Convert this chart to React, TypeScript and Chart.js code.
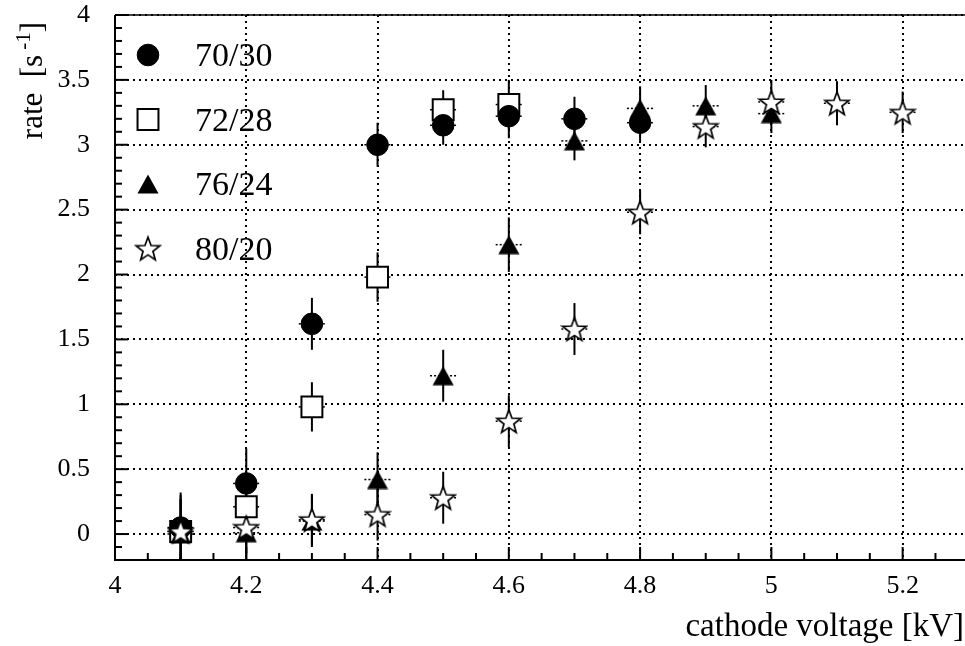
import React, { useEffect, useRef } from 'react';
import { Chart, registerables } from 'chart.js';
import { drawPoint } from 'chart.js/helpers';

Chart.register(...registerables);

// ---------- data ----------
const seriesLabels = ['70/30', '72/28', '76/24', '80/20'];

const voltage7030 = [4.1, 4.2, 4.3, 4.4, 4.5, 4.6, 4.7, 4.8];
const rate7030 = [0.05, 0.39, 1.62, 3.0, 3.15, 3.22, 3.2, 3.17];
const error7030 = [0.27, 0.27, 0.2, 0.17, 0.15, 0.17, 0.17, 0.15];

const voltage7228 = [4.1, 4.2, 4.3, 4.4, 4.5, 4.6];
const rate7228 = [0.02, 0.21, 0.98, 1.98, 3.27, 3.31];
const error7228 = [0.25, 0.25, 0.19, 0.19, 0.15, 0.19];

const voltage7624 = [4.1, 4.2, 4.3, 4.4, 4.5, 4.6, 4.7, 4.8, 4.9, 5.0];
const rate7624 = [0.0, 0.01, 0.1, 0.42, 1.22, 2.23, 3.03, 3.28, 3.3, 3.24];
const error7624 = [0.3, 0.25, 0.2, 0.21, 0.2, 0.21, 0.15, 0.17, 0.16, 0.15];

const voltage8020 = [4.1, 4.2, 4.3, 4.4, 4.5, 4.6, 4.7, 4.8, 4.9, 5.0, 5.1, 5.2];
const rate8020 = [0.02, 0.05, 0.11, 0.15, 0.28, 0.87, 1.58, 2.48, 3.14, 3.33, 3.32, 3.25];
const error8020 = [0.25, 0.2, 0.2, 0.2, 0.2, 0.2, 0.2, 0.17, 0.16, 0.17, 0.17, 0.16];

const voltageError = 0.02;

const xTickValues = [4, 4.2, 4.4, 4.6, 4.8, 5, 5.2];
const yTickValues = [0, 0.5, 1, 1.5, 2, 2.5, 3, 3.5, 4];
const xMinorStep = 0.05;
const yMinorStep = 0.1;

const xTitle = 'cathode voltage [kV]';

// ---------- styling ----------
const FONT = "'Liberation Serif', 'Times New Roman', serif";

function makeStar(): HTMLCanvasElement {
  const size = 28;
  const c = document.createElement('canvas');
  c.width = size;
  c.height = size;
  const g = c.getContext('2d')!;
  const cx = size / 2;
  const cy = size / 2 + 1.2;
  const R = 12.4;
  const r = R * 0.42;
  g.beginPath();
  for (let k = 0; k < 10; k++) {
    const ang = -Math.PI / 2 + (k * Math.PI) / 5;
    const rad = k % 2 === 0 ? R : r;
    const x = cx + rad * Math.cos(ang);
    const y = cy + rad * Math.sin(ang);
    if (k === 0) g.moveTo(x, y);
    else g.lineTo(x, y);
  }
  g.closePath();
  g.fillStyle = '#fff';
  g.fill();
  g.lineWidth = 1.7;
  g.strokeStyle = '#000';
  g.stroke();
  return c;
}

function makeTriangle(): HTMLCanvasElement {
  const w = 22;
  const h = 20;
  const c = document.createElement('canvas');
  c.width = w;
  c.height = h;
  const g = c.getContext('2d')!;
  g.beginPath();
  g.moveTo(0.5, h - 0.5);
  g.lineTo(w - 0.5, h - 0.5);
  g.lineTo(w / 2, 0.5);
  g.closePath();
  g.fillStyle = '#000';
  g.fill();
  return c;
}

function pts(xs: number[], ys: number[]) {
  return xs.map((x, i) => ({ x, y: ys[i] }));
}

const frameTicksPlugin = {
  id: 'frameTicks',
  beforeDatasetsDraw(chart: any) {
    const { ctx, chartArea: a, scales } = chart;
    const xs = scales.x;
    const ys = scales.y;
    ctx.save();
    ctx.setLineDash([]);
    ctx.strokeStyle = '#000';
    ctx.lineWidth = 2;
    ctx.beginPath();
    ctx.moveTo(a.left, a.top);
    ctx.lineTo(a.left, a.bottom);
    ctx.lineTo(a.right, a.bottom);
    ctx.stroke();
    ctx.lineWidth = 1.5;
    ctx.beginPath();
    ctx.moveTo(a.left, a.top);
    ctx.lineTo(a.right, a.top);
    ctx.stroke();
    ctx.lineWidth = 2;
    const xmin = xs.min;
    const xmax = xs.max;
    for (let k = 0; ; k++) {
      const v = xmin + k * xMinorStep;
      if (v > xmax + 1e-9) break;
      const major = xTickValues.some((t) => Math.abs(t - v) < 1e-6);
      const px = xs.getPixelForValue(v);
      const len = major ? 13 : 7;
      ctx.beginPath();
      ctx.moveTo(px, a.bottom);
      ctx.lineTo(px, a.bottom - len);
      ctx.stroke();
    }
    const ymin = ys.min;
    const ymax = ys.max;
    for (let k = 0; ; k++) {
      const v = ymin + k * yMinorStep;
      if (v > ymax + 1e-9) break;
      const major = yTickValues.some((t) => Math.abs(t - v) < 1e-6);
      const py = ys.getPixelForValue(v);
      const len = major ? 13 : 7;
      ctx.beginPath();
      ctx.moveTo(a.left, py);
      ctx.lineTo(a.left + len, py);
      ctx.stroke();
    }
    ctx.restore();
  },
};

const errorBarPlugin = {
  id: 'errorBars',
  beforeDatasetsDraw(chart: any) {
    const { ctx, chartArea: a, scales } = chart;
    const xs = scales.x;
    const ys = scales.y;
    ctx.save();
    ctx.beginPath();
    ctx.rect(a.left, a.top, a.right - a.left, a.bottom - a.top);
    ctx.clip();
    ctx.strokeStyle = '#000';
    chart.data.datasets.forEach((ds: any) => {
      const errs: number[] = ds.yErrors;
      ds.data.forEach((p: any, i: number) => {
        const px = xs.getPixelForValue(p.x);
        const py = ys.getPixelForValue(p.y);
        const top = ys.getPixelForValue(p.y + errs[i]);
        const bot = ys.getPixelForValue(p.y - errs[i]);
        ctx.setLineDash([]);
        ctx.lineWidth = 2;
        ctx.beginPath();
        ctx.moveTo(px, top);
        ctx.lineTo(px, bot);
        ctx.stroke();
        const xl = xs.getPixelForValue(p.x - voltageError);
        const xr = xs.getPixelForValue(p.x + voltageError);
        ctx.lineWidth = 1.5;
        ctx.setLineDash([2, 2]);
        ctx.beginPath();
        ctx.moveTo(xl, py);
        ctx.lineTo(xr, py);
        ctx.stroke();
      });
    });
    ctx.restore();
  },
};

const legendTitlesPlugin = {
  id: 'legendTitles',
  afterDraw(chart: any) {
    const { ctx } = chart;
    ctx.save();
    chart.data.datasets.forEach((ds: any, i: number) => {
      const cx = 148;
      const cy = 55 + 64.5 * i;
      ctx.setLineDash([]);
      ctx.fillStyle = ds.backgroundColor;
      ctx.strokeStyle = ds.borderColor;
      ctx.lineWidth = ds.borderWidth;
      drawPoint(
        ctx,
        { pointStyle: ds.pointStyle, radius: ds.pointRadius, rotation: 0, borderWidth: ds.borderWidth },
        cx,
        cy
      );
      ctx.fillStyle = '#000';
      ctx.font = `34px ${FONT}`;
      ctx.textAlign = 'left';
      ctx.textBaseline = 'alphabetic';
      ctx.fillText(ds.label, 195, cy + 11);
    });
    ctx.fillStyle = '#000';
    ctx.font = `33px ${FONT}`;
    ctx.textAlign = 'right';
    ctx.textBaseline = 'alphabetic';
    ctx.fillText(xTitle, 964, 636);
    ctx.translate(42, 22);
    ctx.rotate(-Math.PI / 2);
    ctx.textAlign = 'left';
    const main = `31px ${FONT}`;
    const sup = `21px ${FONT}`;
    ctx.font = main;
    const w1 = ctx.measureText('rate  [s').width;
    const w3 = ctx.measureText(']').width;
    ctx.font = sup;
    const w2 = ctx.measureText('-1').width;
    const gap = 5;
    const total = w1 + gap + w2 + w3;
    let x = -total;
    ctx.font = main;
    ctx.fillText('rate  [s', x, 0);
    x += w1 + gap;
    ctx.font = sup;
    ctx.fillText('-1', x, -12);
    x += w2;
    ctx.font = main;
    ctx.fillText(']', x, 0);
    ctx.restore();
  },
};

export default function App() {
  const ref = useRef<HTMLCanvasElement>(null);
  useEffect(() => {
    const star = makeStar();
    const tri = makeTriangle();
    const datasets: any[] = [
      {
        label: seriesLabels[0],
        data: pts(voltage7030, rate7030),
        yErrors: error7030,
        pointStyle: 'circle',
        pointRadius: 10.8,
        backgroundColor: '#000',
        borderColor: '#000',
        borderWidth: 1,
        order: 2,
      },
      {
        label: seriesLabels[1],
        data: pts(voltage7228, rate7228),
        yErrors: error7228,
        pointStyle: 'rect',
        pointRadius: 14.8,
        backgroundColor: '#fff',
        borderColor: '#000',
        borderWidth: 2,
        order: 3,
      },
      {
        label: seriesLabels[2],
        data: pts(voltage7624, rate7624),
        yErrors: error7624,
        pointStyle: tri,
        pointRadius: 11,
        backgroundColor: '#000',
        borderColor: '#000',
        borderWidth: 0,
        order: 1,
      },
      {
        label: seriesLabels[3],
        data: pts(voltage8020, rate8020),
        yErrors: error8020,
        pointStyle: star,
        pointRadius: 12,
        backgroundColor: '#fff',
        borderColor: '#000',
        borderWidth: 0,
        order: 0,
      },
    ];
    const fmt = (v: any) => String(Math.round(Number(v) * 100) / 100);
    const chart = new Chart(ref.current!, {
      type: 'scatter',
      data: { datasets },
      options: {
        animation: false,
        responsive: false,
        devicePixelRatio: 1,
        layout: { autoPadding: false, padding: { top: 15, right: 0, left: 0, bottom: 0 } },
        plugins: { legend: { display: false }, tooltip: { enabled: false } },
        scales: {
          x: {
            type: 'linear',
            min: 4,
            max: 5.295,
            afterBuildTicks: (s: any) => {
              s.ticks = xTickValues.map((value) => ({ value }));
            },
            afterFit: (s: any) => {
              s.height = 86;
              s.paddingLeft = 0;
              s.paddingRight = 0;
            },
            ticks: {
              callback: fmt,
              color: '#000',
              font: { family: FONT, size: 26 },
              padding: 11,
              maxRotation: 0,
              autoSkip: false,
            },
            grid: { color: '#000', lineWidth: 2, drawTicks: false },
            border: { display: false, dash: [2, 4] },
          },
          y: {
            type: 'linear',
            min: -0.2,
            max: 4,
            afterBuildTicks: (s: any) => {
              s.ticks = yTickValues.map((value) => ({ value }));
            },
            afterFit: (s: any) => {
              s.width = 115;
              s.paddingTop = 0;
              s.paddingBottom = 0;
            },
            ticks: {
              callback: fmt,
              color: '#000',
              font: { family: FONT, size: 26 },
              padding: 25,
              autoSkip: false,
            },
            grid: { color: '#000', lineWidth: 2, drawTicks: false },
            border: { display: false, dash: [2, 4] },
          },
        },
      } as any,
      plugins: [frameTicksPlugin, errorBarPlugin, legendTitlesPlugin],
    });
    return () => chart.destroy();
  }, []);
  return (
    <div style={{ position: 'fixed', left: 0, top: 0, width: 965, height: 646, background: '#fff' }}>
      <canvas ref={ref} width={965} height={646} style={{ display: 'block' }} />
    </div>
  );
}
